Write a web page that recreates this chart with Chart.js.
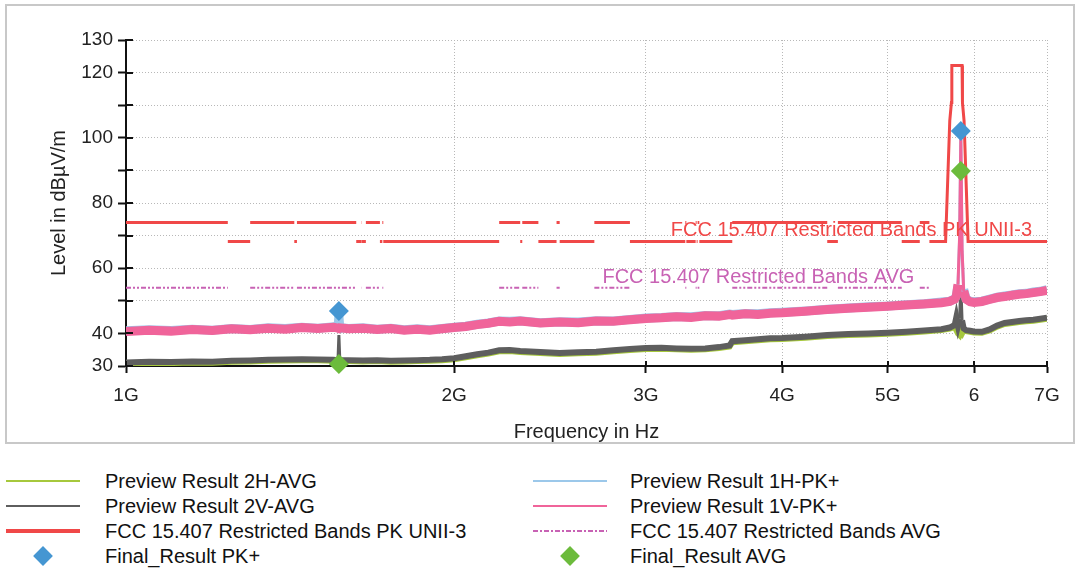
<!DOCTYPE html>
<html>
<head>
<meta charset="utf-8">
<script src="https://cdn.jsdelivr.net/npm/chart.js@4.4.1/dist/chart.umd.min.js"></script>
<style>
  body { margin: 0; background: #fff; font-family: "Liberation Sans", Arial, sans-serif; }
  #frame { position: absolute; left: 5px; top: 4px; width: 1070px; height: 440px; box-sizing: border-box; border: 2px solid #c8c8c8; }
  #plot { position: absolute; left: 0; top: 0; }
  .sample, .txt { position: absolute; }
  .txt { height: 24px; line-height: 24px; font-size: 20px; color: #111; white-space: nowrap; }
</style>
</head>
<body>
<div id="frame"></div>
<canvas id="plot" width="1076" height="450"></canvas>
<div id="legend"></div>
<script>
// frequency points (GHz) of the preview scans
const freqGHz = [1.0, 1.05, 1.1, 1.15, 1.2, 1.25, 1.3, 1.35, 1.4, 1.45, 1.5, 1.55, 1.565, 1.568, 1.571,
  1.6, 1.65, 1.7, 1.75, 1.8, 1.85, 1.9, 1.95, 2.0, 2.05, 2.1, 2.15, 2.2, 2.25, 2.3, 2.4, 2.5, 2.6, 2.7,
  2.8, 2.9, 3.0, 3.1, 3.2, 3.3, 3.4, 3.5, 3.58, 3.6, 3.7, 3.8, 3.9, 4.0, 4.2, 4.4, 4.6, 4.8, 5.0, 5.2,
  5.4, 5.6, 5.7, 5.76, 5.78, 5.8, 5.82, 5.835, 5.85, 5.87, 5.9, 5.95, 6.0, 6.1, 6.2, 6.3, 6.4, 6.5,
  6.6, 6.7, 6.8, 6.9, 7.0];

// levels in dBuV/m
const avg2H = [30.8, 31.0, 30.9, 31.1, 31.0, 31.3, 31.4, 31.6, 31.7, 31.8, 31.8, 31.6, 31.5, 31.6, 31.5,
  31.5, 31.4, 31.5, 31.3, 31.4, 31.5, 31.6, 31.8, 32.1, 32.7, 33.3, 33.8, 34.5, 34.6, 34.3, 34.0, 33.7, 33.9, 34.1,
  34.5, 34.9, 35.2, 35.3, 35.1, 35.0, 35.1, 35.5, 36.0, 37.3, 37.6, 37.9, 38.2, 38.3, 38.7, 39.2, 39.5, 39.7, 39.9, 40.2,
  40.6, 41.0, 41.5, 42.0, 41.0, 40.0, 39.5, 40.5, 40.0, 41.0, 40.7, 40.5, 40.3, 40.2, 40.9, 42.1, 42.9, 43.2,
  43.5, 43.7, 43.9, 44.2, 44.5];
const avg2V = [31.1, 31.3, 31.2, 31.4, 31.3, 31.6, 31.7, 31.9, 32.0, 32.1, 32.0, 31.9, 31.8, 39.5, 31.8,
  31.8, 31.7, 31.8, 31.6, 31.7, 31.8, 31.9, 32.1, 32.4, 33.0, 33.6, 34.1, 34.8, 34.9, 34.6, 34.3, 34.0, 34.2, 34.4,
  34.8, 35.2, 35.5, 35.6, 35.4, 35.3, 35.4, 35.8, 36.3, 37.6, 37.9, 38.2, 38.5, 38.6, 39.0, 39.5, 39.8, 40.0, 40.2, 40.5,
  40.9, 41.3, 41.8, 42.6, 45.0, 42.4, 44.5, 54.8, 44.0, 41.5, 41.0, 40.8, 40.6, 40.5, 41.2, 42.4, 43.2, 43.5,
  43.8, 44.0, 44.2, 44.5, 44.8];
const pk1H = [40.8, 41.1, 40.9, 41.3, 41.0, 41.5, 41.2, 41.7, 41.5, 41.9, 41.6, 42.0, 41.7, 45.5, 41.8,
  41.5, 41.7, 41.3, 41.6, 41.1, 41.4, 41.1, 41.5, 41.9, 42.2, 42.8, 43.2, 43.8, 43.7, 43.9, 43.3, 43.6, 43.5, 43.9,
  43.8, 44.3, 44.7, 44.9, 45.2, 45.1, 45.5, 45.4, 45.9, 45.8, 46.1, 46.0, 46.3, 46.5, 46.9, 47.4, 47.8, 48.2, 48.4, 48.8,
  49.1, 49.6, 49.9, 50.6, 51.6, 54.5, 69.0, 99.5, 65.0, 53.5, 50.6, 49.9, 49.7, 49.9, 50.5, 51.1, 51.5, 51.8,
  52.2, 52.3, 52.7, 52.9, 53.4];
const pk1V = [40.6, 41.0, 40.7, 41.2, 40.9, 41.4, 41.1, 41.6, 41.3, 41.8, 41.5, 41.9, 41.6, 41.5, 41.7,
  41.4, 41.6, 41.2, 41.5, 41.0, 41.3, 41.0, 41.4, 41.8, 42.1, 42.7, 43.1, 43.7, 43.5, 43.8, 43.2, 43.5, 43.3, 43.8,
  43.7, 44.2, 44.6, 44.8, 45.1, 44.9, 45.4, 45.3, 45.8, 45.6, 46.0, 45.8, 46.2, 46.3, 46.8, 47.3, 47.7, 48.0, 48.3, 48.7,
  49.0, 49.4, 49.8, 50.5, 51.5, 55.0, 70.0, 100.2, 66.0, 53.0, 50.5, 49.7, 49.5, 49.8, 50.4, 51.0, 51.3, 51.7,
  52.0, 52.2, 52.5, 52.8, 53.2];

// FCC restricted bands (GHz) and limit levels
const restrictedBands = [[1.0, 1.24], [1.3, 1.427], [1.435, 1.6265], [1.6455, 1.6465], [1.66, 1.71],
  [1.7188, 1.7222], [2.2, 2.3], [2.31, 2.39], [2.4835, 2.5], [2.69, 2.9], [3.26, 3.267], [3.332, 3.339],
  [3.3458, 3.358], [3.6, 4.4], [4.5, 5.15], [5.35, 5.46]];
const pkRestrictedLevel = 74;
const pkOtherLevel = 68.2;
const avgRestrictedLevel = 54;
const uniiMaskFreq = [5.46, 5.65, 5.7, 5.72, 5.725, 5.85, 5.855, 5.875, 5.925, 7.0];
const uniiMaskLevel = [68.2, 68.2, 105.2, 110.8, 122.2, 122.2, 110.8, 105.2, 68.2, 68.2];

// final measurements
const finalFreq = [1.568, 5.835];
const finalPk = [46.9, 102.1];
const finalAvg = [30.6, 89.8];

// axes
const xTickValues = [1, 2, 3, 4, 5, 6, 7];
const xTickLabels = ["1G", "2G", "3G", "4G", "5G", "6", "7G"];
const yLabelled = [30, 40, 60, 80, 100, 120, 130];

const FONT = '"Liberation Sans", Arial, sans-serif';

function toPoints(xs, ys) {
  return xs.map((f, i) => ({ x: f, y: ys[i] }));
}

// horizontal pieces with gaps between them
function bandPoints(level, withOther) {
  const pts = [];
  restrictedBands.forEach((b, i) => {
    pts.push({ x: b[0], y: level }, { x: b[1], y: level }, { x: b[1], y: null });
    if (withOther && i < restrictedBands.length - 1) {
      const next = restrictedBands[i + 1][0];
      pts.push({ x: b[1], y: pkOtherLevel }, { x: next, y: pkOtherLevel }, { x: next, y: null });
    }
  });
  return pts;
}

// spikes are drawn thin, the noisy floor thick
const thinOnJumps = (w) => ({
  borderWidth: c => Math.abs(c.p1.parsed.y - c.p0.parsed.y) > 6 ? 3 : w
});

const datasets = [
  { label: "Preview Result 2H-AVG", data: toPoints(freqGHz, avg2H), borderColor: "#a6c83c", borderWidth: 6, order: 6, segment: thinOnJumps(6) },
  { label: "Preview Result 1H-PK+", data: toPoints(freqGHz, pk1H), borderColor: "#9cc8ea", borderWidth: 9, order: 4, segment: thinOnJumps(9) },
  { label: "Preview Result 2V-AVG", data: toPoints(freqGHz, avg2V), borderColor: "#5e5e5e", borderWidth: 6, order: 5, segment: thinOnJumps(6) },
  { label: "Preview Result 1V-PK+", data: toPoints(freqGHz, pk1V), borderColor: "#f0649a", borderWidth: 9, order: 3, segment: thinOnJumps(9) },
  { label: "FCC 15.407 Restricted Bands PK UNII-3", limitText: "FCC 15.407 Restricted Bands PK UNII-3",
    data: bandPoints(pkRestrictedLevel, true).concat(toPoints(uniiMaskFreq, uniiMaskLevel)),
    borderColor: "#f04848", borderWidth: 3, order: 2, legendWidth: 4 },
  { label: "FCC 15.407 Restricted Bands AVG", limitText: "FCC 15.407 Restricted Bands AVG",
    data: bandPoints(avgRestrictedLevel, false), borderColor: "#c862b4", borderWidth: 2,
    borderDash: [5, 2, 2, 2, 2, 2], order: 2 },
  { label: "Final_Result PK+", data: toPoints(finalFreq, finalPk), showLine: false, pointStyle: "rectRot",
    pointRadius: 10, borderWidth: 0, backgroundColor: "#4596d2", borderColor: "#4596d2", order: 0, clip: false },
  { label: "Final_Result AVG", data: toPoints(finalFreq, finalAvg), showLine: false, pointStyle: "rectRot",
    pointRadius: 10, borderWidth: 0, backgroundColor: "#6cbb3c", borderColor: "#6cbb3c", order: 1, clip: false }
];

const plotExtras = {
  id: "plotExtras",
  afterDatasetsDraw(chart) {
    const { ctx, scales: { x, y } } = chart;
    chart.data.datasets.forEach(ds => {
      if (!ds.limitText) return;
      const pts = ds.data.filter(p => p.y !== null);
      const last = pts[pts.length - 1];
      ctx.save();
      ctx.font = "20px " + FONT;
      ctx.fillStyle = ds.borderColor;
      ctx.textAlign = "right";
      ctx.textBaseline = "alphabetic";
      ctx.fillText(ds.limitText, x.getPixelForValue(last.x) - 15, y.getPixelForValue(last.y) - 5);
      ctx.restore();
    });
  },
  afterDraw(chart) {
    // tick marks also reach a little inside the plot
    const { ctx, chartArea: a, scales: { x, y } } = chart;
    ctx.save();
    ctx.strokeStyle = "#111";
    ctx.lineWidth = 2;
    ctx.beginPath();
    y.ticks.forEach(t => {
      const py = Math.round(y.getPixelForValue(t.value));
      ctx.moveTo(a.left, py); ctx.lineTo(a.left + 7, py);
    });
    x.ticks.forEach(t => {
      const px = Math.round(x.getPixelForValue(t.value));
      ctx.moveTo(px, a.bottom); ctx.lineTo(px, a.bottom - 5);
    });
    ctx.stroke();
    ctx.restore();
  }
};

Chart.defaults.font.family = FONT;
Chart.defaults.color = "#222";

const chart = new Chart(document.getElementById("plot"), {
  type: "line",
  data: { datasets },
  options: {
    responsive: false,
    animation: false,
    spanGaps: false,
    elements: { point: { radius: 0 }, line: { tension: 0 } },
    layout: { padding: { top: 40, right: 29, bottom: 6, left: 0 } },
    plugins: { legend: { display: false }, tooltip: { enabled: false } },
    scales: {
      x: {
        type: "logarithmic",
        min: 1, max: 7,
        afterBuildTicks: s => { s.ticks = xTickValues.map(v => ({ value: v })); },
        afterFit: s => { s.height = 78; },
        ticks: {
          autoSkip: false, maxRotation: 0, padding: 11,
          font: { size: 19 },
          callback: v => xTickLabels[xTickValues.indexOf(v)] || ""
        },
        grid: { color: "#b8b8b8", tickColor: "#111", tickWidth: 2, tickLength: 7 },
        border: { color: "#111", width: 2, dash: [1, 2] },
        title: { display: true, text: "Frequency in Hz", font: { size: 20 }, padding: { top: 0, bottom: 0 } }
      },
      y: {
        min: 30, max: 130,
        afterFit: s => { s.width = 126; },
        ticks: {
          stepSize: 10, padding: 5,
          font: { size: 19 },
          callback: v => yLabelled.includes(v) ? String(v) : ""
        },
        grid: { color: "#b8b8b8", tickColor: "#111", tickWidth: 2, tickLength: 8 },
        border: { color: "#111", width: 2, dash: [1, 2] },
        title: { display: true, text: "Level in dBµV/m", font: { size: 20 }, padding: { top: 47, bottom: 0 } }
      }
    }
  },
  plugins: [plotExtras]
});

// legend: two columns, filled row by row in dataset order
const legend = document.getElementById("legend");
const colSample = [6, 533];
const colText = [105, 630];
chart.data.datasets.forEach((ds, i) => {
  const col = i % 2, row = Math.floor(i / 2);
  const cy = 481 + row * 25;
  const s = document.createElement("div");
  s.className = "sample";
  if (ds.pointStyle === "rectRot") {
    s.style.cssText = `left:${colSample[col] + 30}px;top:${cy - 7}px;width:14px;height:14px;background:${ds.backgroundColor};transform:rotate(45deg);`;
  } else {
    const h = ds.legendWidth || 2;
    let bg = ds.borderColor;
    if (ds.borderDash) {
      bg = `repeating-linear-gradient(to right, ${ds.borderColor} 0 5px, transparent 5px 7px, ${ds.borderColor} 7px 9px, transparent 9px 11px)`;
    }
    s.style.cssText = `left:${colSample[col]}px;top:${cy - h / 2}px;width:74px;height:${h}px;background:${bg};`;
  }
  legend.appendChild(s);
  const t = document.createElement("div");
  t.className = "txt";
  t.style.left = colText[col] + "px";
  t.style.top = (cy - 12) + "px";
  t.textContent = ds.label;
  legend.appendChild(t);
});
</script>
</body>
</html>
